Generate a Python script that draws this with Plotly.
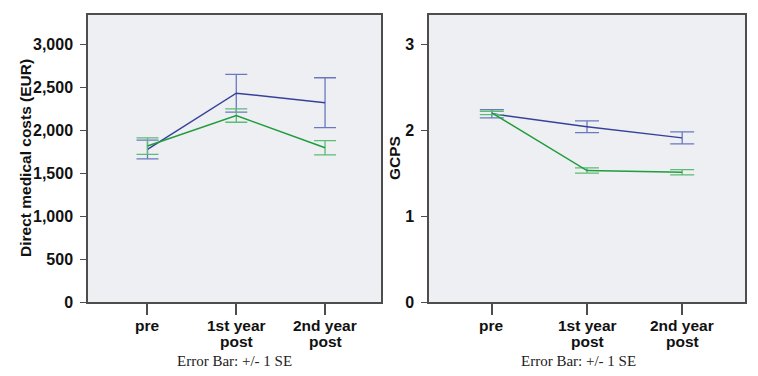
import plotly.graph_objects as go

categories_line1 = ["pre", "1st year", "2nd year"]
categories_line2 = ["", "post", "post"]
x_pos = [0, 1, 2]

cost_blue = [1775, 2430, 2320]
cost_blue_se = [110, 220, 290]
cost_green = [1815, 2170, 1795]
cost_green_se = [96, 78, 82]

gcps_blue = [2.19, 2.04, 1.91]
gcps_blue_se = [0.048, 0.068, 0.07]
gcps_green = [2.20, 1.53, 1.51]
gcps_green_se = [0.02, 0.03, 0.03]

cost_ticks = [0, 500, 1000, 1500, 2000, 2500, 3000]
cost_ticktext = ["0", "500", "1,000", "1,500", "2,000", "2,500", "3,000"]
gcps_ticks = [0, 1, 2, 3]
gcps_ticktext = ["0", "1", "2", "3"]

BLUE = "#36429a"
BLUE_ERR = "#6a78c0"
GREEN = "#1f9c3c"
GREEN_ERR = "#5cbb74"
TXT = "#111111"
SANS = "Liberation Sans, Arial, sans-serif"
SERIF = "Liberation Serif, Times New Roman, serif"

# page body has an 8px margin; the figure is sized to fill the rest of the window
OFF = 8
W, H = 758 - OFF, 376 - OFF


def px(x):
    return (x - OFF) / W


def py(y):
    return 1 - (y - OFF) / H


fig = go.Figure()


def add(y, se, color, ecolor, xa, ya, w):
    fig.add_trace(go.Scatter(
        x=x_pos, y=y, mode="lines", xaxis=xa, yaxis=ya,
        line=dict(color=color, width=1.5),
        error_y=dict(type="data", array=se, visible=True, color=ecolor,
                     thickness=1.3, width=w),
        showlegend=False, hoverinfo="skip"))


add(cost_blue, cost_blue_se, BLUE, BLUE_ERR, "x", "y", 11)
add(cost_green, cost_green_se, GREEN, GREEN_ERR, "x", "y", 11)
add(gcps_blue, gcps_blue_se, BLUE, BLUE_ERR, "x2", "y2", 12)
add(gcps_green, gcps_green_se, GREEN, GREEN_ERR, "x2", "y2", 12)

ydom = [py(302), py(15)]
tickfont = dict(family=SANS, size=16, color=TXT)
axcommon = dict(showline=True, linecolor="#4d4d4d", linewidth=1.5, mirror=True,
                showgrid=False, zeroline=False, ticks="outside", tickcolor="#4d4d4d",
                tickfont=tickfont, automargin=False)


def b(lst):
    return ["<b>" + t + "</b>" for t in lst]


fig.update_layout(
    width=W, height=H,
    margin=dict(l=0, r=0, t=0, b=0, autoexpand=False),
    paper_bgcolor="white",
    plot_bgcolor="#eeeff2",
    xaxis=dict(domain=[px(88), px(381)], range=[-0.67, 2.63], tickvals=x_pos,
               showticklabels=False, ticklen=11, tickwidth=1.5, anchor="y", **axcommon),
    yaxis=dict(domain=ydom, range=[0, 3340], tickvals=cost_ticks, ticktext=b(cost_ticktext),
               ticklen=6, tickwidth=1.2, anchor="x", ticklabelstandoff=4, **axcommon),
    xaxis2=dict(domain=[px(429), px(745)], range=[-0.66, 2.66], tickvals=x_pos,
                showticklabels=False, ticklen=11, tickwidth=1.5, anchor="y2", **axcommon),
    yaxis2=dict(domain=ydom, range=[0, 3.34], tickvals=gcps_ticks, ticktext=b(gcps_ticktext),
                ticklen=6, tickwidth=1.2, anchor="x2", ticklabelstandoff=4, **axcommon),
)

# category labels (two lines, tight spacing)
for xa in ["x", "x2"]:
    for xv, t1, t2 in zip(x_pos, categories_line1, categories_line2):
        for t, yc in [(t1, 325), (t2, 341)]:
            if t:
                fig.add_annotation(text="<b>" + t + "</b>", x=xv, xref=xa, y=py(yc), yref="paper",
                                   showarrow=False, xanchor="center", yanchor="middle",
                                   font=dict(family=SANS, size=15.5, color=TXT))

# axis titles
fig.add_annotation(text="<b>Direct medical costs (EUR)</b>", x=px(26), y=py(158),
                   xref="paper", yref="paper", showarrow=False, textangle=-90,
                   xanchor="center", yanchor="middle", font=dict(family=SANS, size=15.5, color=TXT))
fig.add_annotation(text="<b>GCPS</b>", x=px(395), y=py(158),
                   xref="paper", yref="paper", showarrow=False, textangle=-90,
                   xanchor="center", yanchor="middle", font=dict(family=SANS, size=15.5, color=TXT))

for xc in [235, 578]:
    fig.add_annotation(text="Error Bar: +/- 1 SE", x=px(xc), y=py(361), xref="paper", yref="paper",
                       showarrow=False, xanchor="center", yanchor="middle",
                       font=dict(family=SERIF, size=15, color="#222222"))

fig.write_html("out.html")
